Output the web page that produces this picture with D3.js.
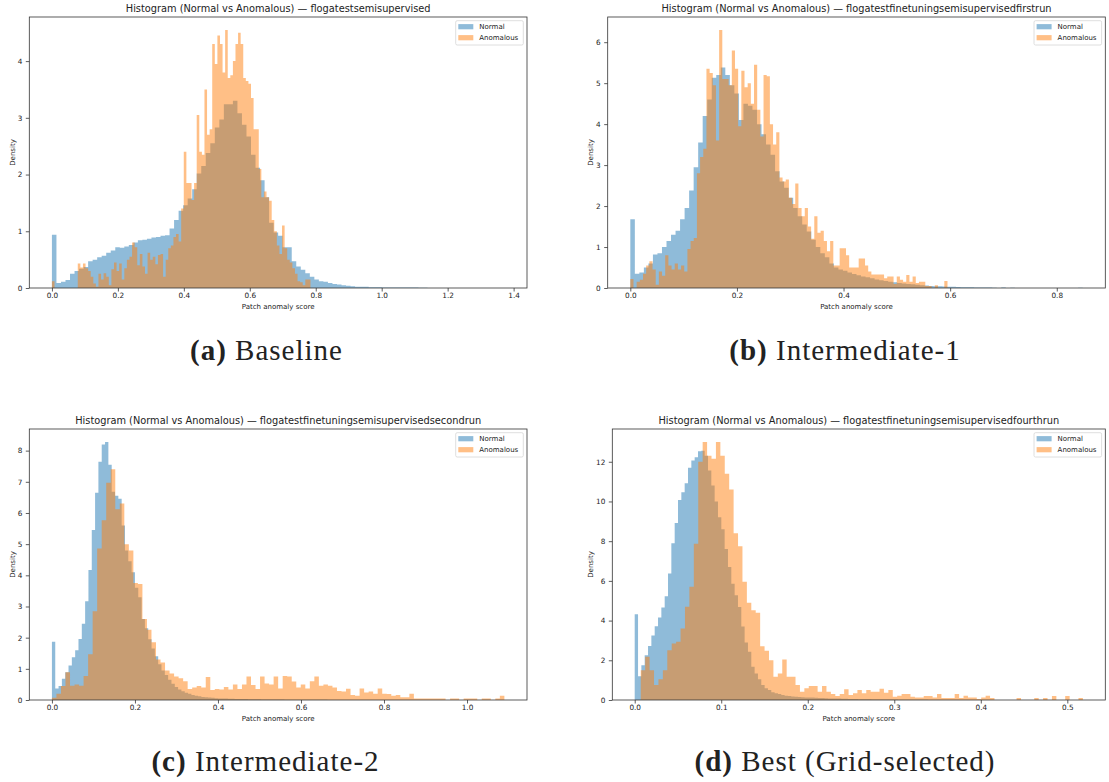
<!DOCTYPE html>
<html>
<head>
<meta charset="utf-8">
<script src="https://cdn.jsdelivr.net/npm/d3@7"></script>
<style>
  body { margin: 0; background: #fff; }
  text { font-family: "DejaVu Sans", sans-serif; fill: #222; }
</style>
</head>
<body>
<div id="chart"></div>
<script>
const W = 1109, H = 782;

// densities per bin (100 bins each)
const aNormal = [0.94,0.09,0.11,0.14,0.25,0.30,0.34,0.37,0.47,0.50,
  0.54,0.57,0.62,0.66,0.72,0.71,0.73,0.76,0.80,0.84,
  0.85,0.87,0.89,0.90,0.92,0.93,1.05,1.20,1.36,1.46,
  1.58,1.74,2.02,2.15,2.38,2.55,2.83,2.97,3.24,3.24,
  3.30,3.08,2.88,2.67,2.35,2.12,1.90,1.60,1.15,0.98,
  0.92,0.72,0.72,0.47,0.38,0.32,0.26,0.20,0.15,0.12,
  0.11,0.09,0.07,0.06,0.05,0.04,0.03,0.02,0.02,0.02,
  0.015,0.015,0.015,0.01,0.01,0.01,0.01,0.01,0.01,0.01,
  0.008,0.005,0.003,0.002,0.002,0.001,0.001,0.001,0,0.001,
  0,0.001,0,0,0.001,0,0,0,0,0.001];
const aAnom = [0.12,0,0,0,0,0,0,0,0,0,
  0.43,0.36,0.43,0.35,0.30,0.20,0.08,0.02,0.25,0.15,
  0.26,0.20,0.05,0.33,0.45,0.30,0.43,0.15,0.35,0.50,
  0.55,0.80,0.72,0.40,0.60,0.38,0.25,0.62,0.50,0.55,
  0.42,0.58,0.60,0.20,0.50,0.70,0.75,0.90,0.95,0.82,
  1.40,2.40,1.85,1.85,1.55,1.85,3.05,2.40,2.35,3.50,
  2.70,2.80,4.30,3.95,4.45,4.30,3.80,4.55,3.70,3.75,
  4.00,4.30,4.50,4.30,3.70,3.65,3.60,3.35,2.80,2.80,
  2.10,1.60,1.70,1.60,1.54,1.20,1.00,0.75,0.60,1.10,
  0.70,0.50,0.45,0.35,0.25,0.12,0.10,0.05,0.15,0.15];
const aNormalRange = [0, 1.372], aAnomRange = [0, 0.784];

const bNormal = [1.68,0.35,0.38,0.50,0.60,0.82,0.85,1.00,1.15,1.30,
  1.40,1.68,1.95,2.38,2.95,3.55,4.20,4.60,5.13,5.20,
  5.38,5.20,4.95,4.75,4.10,4.50,4.45,4.35,4.00,3.75,
  3.50,3.25,2.85,2.60,2.45,2.20,1.95,1.75,1.55,1.38,
  1.18,1.00,0.85,0.75,0.60,0.50,0.45,0.42,0.38,0.34,
  0.31,0.28,0.26,0.24,0.21,0.19,0.17,0.15,0.14,0.12,
  0.11,0.10,0.09,0.08,0.07,0.06,0.05,0.045,0.04,0.035,
  0.03,0.03,0.025,0.02,0.02,0.02,0.015,0.015,0.01,0.01,
  0.005,0,0.01,0,0.008,0,0,0,0,0,
  0,0,0,0,0,0,0,0,0,0.005];
const bAnom = [0.22,0,0.15,0.20,0.35,0.55,0.65,0.45,0.08,0.40,
  0.30,0.80,0.55,0.45,0.60,0.45,0.55,0.40,0.95,1.15,
  1.22,2.80,3.20,3.40,5.35,5.25,4.95,3.60,6.30,5.10,
  5.10,4.95,5.80,5.35,3.95,5.30,4.90,5.00,4.50,5.45,
  4.35,3.70,5.20,5.17,4.00,3.50,3.80,2.70,2.60,2.65,
  2.20,2.05,2.55,1.95,1.75,1.95,1.50,1.20,1.75,1.35,
  1.40,1.15,0.90,1.15,0.55,0.55,0.97,0.97,0.80,0.50,
  0.50,0.50,0.72,0.72,0.55,0.40,0.33,0.33,0.33,0.33,
  0.24,0.28,0.28,0.10,0.28,0.20,0.15,0.32,0.15,0.28,
  0.12,0.15,0.15,0.05,0.05,0,0.07,0,0,0.17];
const bNormalRange = [0, 0.8486], bAnomRange = [0, 0.595];

const cNormal = [1.87,0.37,0.45,0.68,0.89,1.11,1.37,1.60,1.96,2.45,
  3.17,4.17,5.45,6.65,7.64,8.20,8.28,7.55,6.68,6.55,
  6.46,5.60,4.80,4.45,4.10,3.60,3.30,2.60,2.30,1.95,
  1.65,1.40,1.15,0.95,0.80,0.65,0.52,0.42,0.34,0.28,
  0.23,0.20,0.16,0.14,0.12,0.10,0.09,0.08,0.07,0.06,
  0.05,0.05,0.045,0.04,0.04,0.035,0.03,0.03,0.03,0.028,
  0.025,0.025,0.022,0.02,0.02,0.018,0.016,0.015,0.015,0.014,
  0.012,0.012,0.01,0.01,0.01,0.009,0.008,0.008,0.007,0.006,
  0.006,0.005,0.005,0.004,0.004,0.004,0.003,0.003,0.003,0.003,
  0.002,0.002,0.002,0.002,0.002,0.001,0.001,0.001,0.001,0.002];
const cAnom = [0.07,0.20,0.45,0.89,0.46,0.50,0.46,0.77,1.47,2.85,
  4.86,5.77,6.97,7.40,6.12,6.30,5.00,4.80,3.75,3.72,
  2.60,2.25,1.85,1.30,1.20,0.95,0.85,0.75,0.70,0.60,
  0.35,0.40,0.45,0.40,0.74,0.32,0.35,0.34,0.42,0.34,
  0.50,0.35,0.50,0.75,0.48,0.35,0.75,0.53,0.50,0.75,
  0.37,0.77,0.75,0.59,0.40,0.50,0.37,0.60,0.75,0.46,
  0.50,0.46,0.40,0.29,0.27,0.36,0.16,0.14,0.37,0.24,
  0.27,0.20,0.37,0.20,0.19,0.14,0.16,0.09,0.09,0.20,
  0.05,0.05,0.05,0.05,0.05,0.05,0.05,0,0.05,0.05,
  0,0.05,0.05,0.05,0,0.05,0.05,0,0.05,0.14];
const cNormalRange = [0, 0.80], cAnomRange = [0, 1.09];

const dNormal = [4.32,1.20,1.75,2.25,2.72,3.25,3.72,4.15,4.66,5.23,
  6.37,7.90,8.91,10.08,10.47,10.92,11.70,12.06,12.23,12.53,
  12.56,12.30,11.56,10.80,10.00,9.20,8.60,7.60,6.70,5.86,
  5.28,4.69,3.70,2.90,2.43,1.68,1.34,1.04,0.75,0.59,
  0.50,0.39,0.34,0.30,0.25,0.22,0.20,0.18,0.17,0.15,
  0.14,0.13,0.12,0.12,0.11,0.10,0.10,0.09,0.08,0.08,
  0.07,0.07,0.06,0.06,0.05,0.05,0.05,0.04,0.04,0.04,
  0.035,0.03,0.03,0.03,0.025,0.025,0.02,0.02,0.02,0.015,
  0.015,0.015,0.01,0.01,0.01,0.01,0.008,0.008,0.006,0.006,
  0.005,0.005,0.004,0.004,0.003,0.003,0.002,0.002,0.002,0.002];
const dAnom = [1.50,2.18,1.50,0.75,1.04,1.50,2.50,2.85,2.93,3.60,
  4.70,5.70,7.87,12.0,13.0,12.3,12.15,13.0,12.3,11.4,
  10.6,8.4,7.74,5.95,4.90,4.52,4.39,2.71,2.48,2.00,
  1.17,1.34,2.04,1.17,1.17,0.75,0.42,0.59,0.70,0.70,
  0.42,0.70,0.42,0.30,0.20,0.30,0.54,0.25,0.34,0.50,
  0.34,0.50,0.42,0.42,0.57,0.37,0.50,0.17,0.22,0.30,
  0.30,0.17,0.13,0.13,0.20,0.20,0.13,0.30,0.10,0.10,
  0.10,0.30,0.10,0.22,0.13,0.13,0.05,0.13,0.22,0.10,
  0,0,0,0,0,0.10,0,0,0,0.10,
  0,0.10,0,0.20,0,0,0.20,0,0,0.10];
const dNormalRange = [0, 0.385], dAnomRange = [0.007, 0.518];

const aXTicks = [0, 0.2, 0.4, 0.6, 0.8, 1.0, 1.2, 1.4], aYTicks = [0, 1, 2, 3, 4];
const bXTicks = [0, 0.2, 0.4, 0.6, 0.8], bYTicks = [0, 1, 2, 3, 4, 5, 6];
const cXTicks = [0, 0.2, 0.4, 0.6, 0.8, 1.0], cYTicks = [0, 1, 2, 3, 4, 5, 6, 7, 8];
const dXTicks = [0, 0.1, 0.2, 0.3, 0.4, 0.5], dYTicks = [0, 2, 4, 6, 8, 10, 12];

const seriesNames = ["Normal", "Anomalous"];
const titlePrefix = "Histogram (Normal vs Anomalous) \u2014 ";
const runNames = ["flogatestsemisupervised", "flogatestfinetuningsemisupervisedfirstrun",
  "flogatestfinetuningsemisupervisedsecondrun", "flogatestfinetuningsemisupervisedfourthrun"];
const captionTags = ["(a)", "(b)", "(c)", "(d)"];
const captionNames = ["Baseline", "Intermediate-1", "Intermediate-2", "Best (Grid-selected)"];

const colors = ["#1f77b4", "#ff7f0e"];

const svg = d3.select("#chart").append("svg")
  .attr("width", W)
  .attr("height", H);

const panels = [
  {box: [29.3, 527, 17, 288], normal: aNormal, anom: aAnom, nr: aNormalRange, ar: aAnomRange,
   xt: aXTicks, yt: aYTicks, ylab: 17, cap: [266.5, 360]},
  {box: [607.7, 1105.3, 17, 288], normal: bNormal, anom: bAnom, nr: bNormalRange, ar: bAnomRange,
   xt: bXTicks, yt: bYTicks, ylab: 17, cap: [845, 360]},
  {box: [29.3, 527, 429, 700], normal: cNormal, anom: cAnom, nr: cNormalRange, ar: cAnomRange,
   xt: cXTicks, yt: cYTicks, ylab: 17, cap: [265.5, 771]},
  {box: [612.3, 1105.3, 429, 700], normal: dNormal, anom: dAnom, nr: dNormalRange, ar: dAnomRange,
   xt: dXTicks, yt: dYTicks, ylab: 21.6, cap: [845, 771]}
];

function bins(vals, range) {
  const w = (range[1] - range[0]) / vals.length;
  return vals.map((v, i) => ({x0: range[0] + i * w, x1: range[0] + (i + 1) * w, v: v}));
}

panels.forEach(function(p, k) {
  const [left, right, top, bottom] = p.box;
  const lo = Math.min(p.nr[0], p.ar[0]), hi = Math.max(p.nr[1], p.ar[1]);
  const span = hi - lo;
  const ymax = d3.max(p.normal.concat(p.anom));

  const x = d3.scaleLinear().domain([lo - 0.05 * span, hi + 0.05 * span]).range([left, right]);
  const y = d3.scaleLinear().domain([0, ymax * 1.05]).range([bottom, top]);

  const g = svg.append("g");

  // step area per series, orange drawn over blue
  [bins(p.normal, p.nr), bins(p.anom, p.ar)].forEach(function(b, s) {
    const pts = b.map(d => [d.x0, d.v]);
    pts.push([b[b.length - 1].x1, b[b.length - 1].v]);
    const area = d3.area()
      .x(d => x(d[0]))
      .y0(y(0))
      .y1(d => y(d[1]))
      .curve(d3.curveStepAfter);
    g.append("path")
      .attr("d", area(pts))
      .attr("fill", colors[s])
      .attr("fill-opacity", 0.5);
  });

  const xAxis = d3.axisBottom(x)
    .tickValues(p.xt)
    .tickSize(3.5)
    .tickPadding(1.2)
    .tickFormat(d3.format(".1f"));
  const gx = g.append("g")
    .attr("transform", "translate(0," + bottom + ")")
    .call(xAxis);

  const yAxis = d3.axisLeft(y)
    .tickValues(p.yt)
    .tickSize(3.5)
    .tickPadding(3.5)
    .tickFormat(d3.format("d"));
  const gy = g.append("g")
    .attr("transform", "translate(" + left + ",0)")
    .call(yAxis);

  [gx, gy].forEach(function(a) {
    a.select(".domain").remove();
    a.selectAll("line").attr("stroke", "#333").attr("stroke-width", 0.8);
    a.selectAll("text")
      .style("font-family", "DejaVu Sans")
      .style("font-size", "7.3px")
      .attr("fill", "#222");
  });

  g.append("rect")
    .attr("x", left)
    .attr("y", top)
    .attr("width", right - left)
    .attr("height", bottom - top)
    .attr("fill", "none")
    .attr("stroke", "#333")
    .attr("stroke-width", 0.8);

  g.append("text")
    .attr("x", (left + right) / 2)
    .attr("y", top - 5)
    .attr("text-anchor", "middle")
    .style("font-size", "9.8px")
    .text(titlePrefix + runNames[k]);

  g.append("text")
    .attr("x", (left + right) / 2)
    .attr("y", bottom + 20.5)
    .attr("text-anchor", "middle")
    .style("font-size", "7px")
    .text("Patch anomaly score");

  g.append("text")
    .attr("transform", "translate(" + (left - p.ylab) + "," + ((top + bottom) / 2) + ") rotate(-90)")
    .attr("text-anchor", "middle")
    .attr("dy", "0.35em")
    .style("font-size", "7px")
    .text("Density");

  // legend
  const lw = 67.6, lh = 24.3;
  const lx = right - 3.7 - lw, ly = top + 3.7;
  const lg = g.append("g");
  lg.append("rect")
    .attr("x", lx).attr("y", ly)
    .attr("width", lw).attr("height", lh)
    .attr("rx", 1.5)
    .attr("fill", "#fff").attr("fill-opacity", 0.8)
    .attr("stroke", "#d6d6d6").attr("stroke-width", 0.8);
  seriesNames.forEach(function(name, i) {
    const cy = ly + 6 + i * 11;
    lg.append("rect")
      .attr("x", lx + 2.6).attr("y", cy - 2.6)
      .attr("width", 15).attr("height", 5.2)
      .attr("fill", colors[i]).attr("fill-opacity", 0.5);
    lg.append("text")
      .attr("x", lx + 23.6).attr("y", cy)
      .attr("dy", "0.35em")
      .style("font-size", "7px")
      .text(name);
  });

  // caption under the panel
  const cap = svg.append("text")
    .attr("x", p.cap[0])
    .attr("y", p.cap[1])
    .attr("text-anchor", "middle")
    .style("font-family", "'Liberation Serif', serif")
    .style("font-size", "29px")
    .style("letter-spacing", "1px")
    .attr("fill", "#111");
  cap.append("tspan").style("font-weight", "bold").text(captionTags[k]);
  cap.append("tspan").text(" " + captionNames[k]);
});
</script>
</body>
</html>
